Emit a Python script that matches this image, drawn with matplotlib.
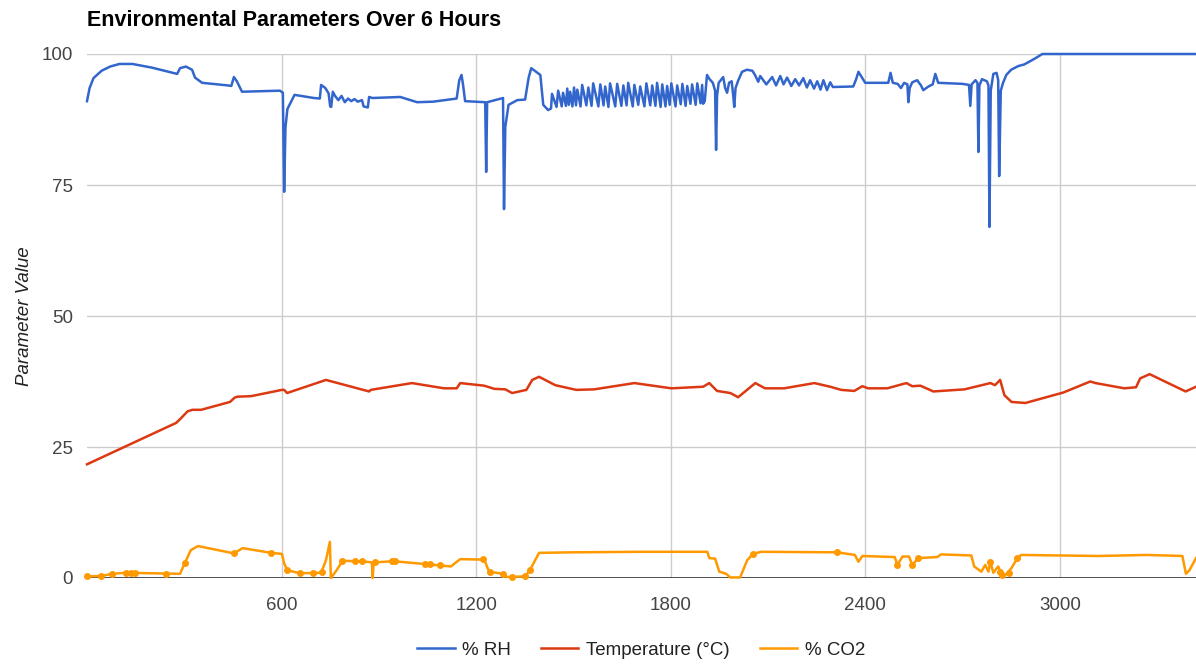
import numpy as np
import matplotlib
matplotlib.use("Agg")
import matplotlib.pyplot as plt

plt.rcParams['font.family'] = ['Liberation Sans', 'DejaVu Sans']

TITLE = "Environmental Parameters Over 6 Hours"
Y_LABEL = "Parameter Value"
SERIES_NAMES = ["% RH", "Temperature (°C)", "% CO2"]
COLORS = ["#3366CC", "#DC3912", "#FF9900"]
X_TICKS = [600, 1200, 1800, 2400, 3000]
Y_TICKS = [0, 25, 50, 75, 100]

# % RH
rh_x = [0, 8, 20, 45, 71, 100, 140, 200, 278, 287, 305, 324, 333, 355, 435, 445, 453, 462, 478,
        595, 604, 608, 612, 618, 640, 700, 718, 722, 735, 745, 750, 753, 758, 765, 775, 785, 795,
        805, 815, 825, 835, 848, 853, 866, 870, 880, 966, 1018, 1067, 1129, 1140, 1148, 1155, 1160,
        1166, 1228, 1231, 1234, 1283, 1286, 1290, 1300, 1327, 1351, 1362, 1370, 1385, 1398, 1407,
        1422,
        1431, 1434, 1448, 1453, 1464, 1468, 1477, 1481, 1486, 1490, 1497, 1502, 1508, 1512, 1522,
        1527, 1540, 1546, 1556, 1561, 1577, 1583, 1593, 1598, 1608, 1613, 1629, 1635, 1648, 1654,
        1664, 1669, 1683, 1688, 1700, 1706, 1719, 1725, 1737, 1743, 1753, 1758, 1769, 1774, 1784,
        1789, 1797, 1802, 1815, 1820, 1831, 1836, 1846, 1851, 1861, 1866, 1877, 1882, 1892, 1897,
        1900, 1905, 1912, 1920, 1930, 1937, 1940, 1943, 1948, 1962, 1968, 1974, 1980, 1988, 1993,
        1996, 2000, 2008, 2020, 2035, 2052, 2060, 2070, 2076, 2095, 2113, 2125, 2138, 2148, 2159,
        2172, 2184, 2196, 2209, 2220, 2230, 2242, 2252, 2262, 2271, 2282, 2292, 2300, 2363, 2372,
        2379, 2390, 2400, 2471, 2478, 2485, 2500, 2510, 2520, 2530, 2533, 2537, 2545, 2560, 2572,
        2579, 2595, 2608, 2616, 2625, 2700, 2720, 2724, 2728, 2740, 2746, 2749, 2752, 2760, 2775,
        2780, 2783, 2787, 2795, 2805, 2810, 2813, 2818, 2825, 2835, 2850, 2872, 2890, 2905, 2925,
        2946, 3420]
rh_y = [91.0, 93.5, 95.4, 96.8, 97.6, 98.1, 98.1, 97.4, 96.2, 97.3, 97.6, 97.0, 95.5, 94.5, 94.0,
        93.9, 95.6, 94.8, 92.8, 93.0, 92.6, 73.7, 86.0, 89.5, 92.2, 91.6, 91.5, 94.1, 93.5, 92.5,
        90.0, 89.9, 92.8, 92.0, 91.2, 92.0, 90.8, 91.5, 91.0, 91.4, 90.9, 91.2, 90.0, 89.8, 91.8,
        91.6, 91.8, 90.8, 90.9, 91.4, 91.5, 95.0, 96.0, 94.0, 91.0, 90.8, 77.5, 90.8, 91.6, 70.4,
        86.1, 90.3, 91.2, 91.3, 95.5, 97.3, 96.6, 96.0, 90.3, 89.3,
        89.6, 92.4, 89.9, 93.0, 90.0, 92.6, 90.1, 93.4, 90.3, 92.8, 90.0, 93.6, 90.2, 93.2, 90.0,
        94.1, 90.2, 93.6, 90.1, 94.4, 90.0, 94.2, 90.2, 93.8, 89.9, 94.4, 90.0, 94.3, 90.1, 94.0,
        90.2, 94.5, 90.0, 94.1, 90.3, 93.8, 90.0, 94.4, 90.2, 94.0, 90.1, 94.5, 89.9, 94.2, 90.0,
        93.9, 90.3, 94.4, 90.0, 94.0, 90.4, 94.3, 90.1, 93.9, 90.5, 94.2, 90.3, 94.4, 90.6, 94.1,
        90.5, 91.0, 96.0, 95.2, 94.5, 93.0, 81.7, 92.0, 94.5, 95.6, 93.5, 92.6, 94.5, 94.8, 92.0,
        89.9, 93.5, 94.9, 96.6, 97.0, 96.8, 96.0, 94.7, 95.8, 94.2, 95.6, 94.0, 95.8, 94.2, 95.5,
        93.9, 95.2, 94.0, 95.4, 93.6, 95.0, 93.4, 94.8, 93.2, 95.0, 93.1, 94.6, 93.7, 93.8, 95.2,
        96.6, 95.5, 94.5, 94.5, 96.4, 94.5, 94.3, 93.5, 94.5, 94.2, 90.8, 93.5, 94.6, 95.0, 94.0,
        93.1, 93.8, 94.2, 96.2, 94.5, 94.3, 94.1, 90.1, 94.2, 95.0, 94.5, 81.3, 94.0, 95.2, 94.8,
        94.0, 67.0, 93.0, 96.2, 96.4, 95.0, 76.7, 93.0, 94.5, 96.0, 97.0, 97.7, 98.0, 98.5, 99.2,
        100.0, 100.0]

# Temperature (°C)
temp_x = [0, 275, 290, 310, 325, 352, 441, 455, 463, 506, 601, 608, 617, 737, 870, 875, 1002, 1101,
          1140, 1151, 1225, 1256, 1290, 1311, 1355, 1373, 1394, 1444, 1509, 1564, 1688, 1802, 1900,
          1919, 1943, 1984, 2008, 2061, 2091, 2150, 2243, 2292, 2326, 2366, 2391, 2409, 2468, 2527,
          2545, 2570, 2610, 2706, 2786, 2800, 2816, 2829, 2851, 2894, 3011, 3094, 3110, 3199, 3235,
          3248, 3277, 3388, 3420]
temp_y = [21.7, 29.6, 30.5, 31.8, 32.1, 32.1, 33.6, 34.4, 34.6, 34.7, 35.9, 35.9, 35.3, 37.8, 35.6,
          35.9, 37.2, 36.2, 36.2, 37.2, 36.7, 36.1, 36.0, 35.3, 35.9, 37.8, 38.4, 36.8, 35.9, 36.0,
          37.2, 36.2, 36.5, 37.2, 35.7, 35.3, 34.5, 37.2, 36.2, 36.2, 37.2, 36.5, 35.9, 35.7, 36.6,
          36.2, 36.2, 37.2, 36.6, 36.7, 35.6, 36.0, 37.2, 36.8, 37.8, 34.9, 33.6, 33.4, 35.4, 37.5,
          37.2, 36.2, 36.4, 38.1, 38.9, 35.6, 36.5]

# % CO2
co2_x = [0, 45, 78, 120, 200, 287, 302, 320, 342, 453, 480, 568, 601, 608, 617, 657, 722, 737, 749,
         752, 770, 788, 860, 878, 880, 881, 884, 891, 946, 1036, 1122, 1151, 1225, 1240, 1283, 1295,
         1351, 1366, 1394, 1500, 1706, 1913, 1919, 1937, 1950, 1971, 1984, 2014, 2036, 2054, 2079,
         2314, 2368, 2379, 2391, 2491, 2499, 2515, 2535, 2545, 2564, 2622, 2634, 2727, 2736, 2758,
         2770, 2780, 2786, 2795, 2810, 2823, 2835, 2851, 2869, 2881, 3116, 3270, 3378, 3389, 3400,
         3420]
co2_y = [0.3, 0.4, 0.8, 1.0, 0.9, 0.8, 2.9, 5.3, 6.1, 4.7, 5.7, 4.8, 4.6, 2.8, 1.5, 0.9, 1.0, 3.4,
         6.9, 0.0, 1.5, 3.3, 3.1, 3.0, 1.5, 0.0, 3.0, 3.0, 3.2, 2.7, 2.2, 3.6, 3.5, 1.2, 0.8, 0.2,
         0.3, 1.5, 4.8, 4.9, 5.0, 5.0, 3.8, 3.7, 1.2, 0.8, 0.1, 0.1, 3.4, 4.6, 5.0, 4.9, 4.4, 3.1,
         4.2, 4.0, 2.5, 4.1, 4.1, 2.5, 3.8, 4.0, 4.5, 4.3, 2.2, 1.2, 2.5, 1.2, 3.1, 1.0, 2.2, 0.5,
         0.7, 1.9, 3.8, 4.4, 4.2, 4.4, 4.2, 0.8, 1.5, 3.8]

# isolated CO2 points that the chart draws as dots
co2_dot_x = [0, 43, 77, 120, 135, 148, 244, 302, 453, 568, 617, 657, 697, 725, 787, 827, 848, 888,
             941, 950, 1043, 1058, 1089, 1222, 1243, 1283, 1311, 1351, 1366, 2054, 2314, 2499, 2545,
             2564, 2786, 2816, 2823, 2842, 2869]
co2_dot_y = [0.3, 0.4, 0.8, 1.0, 1.0, 1.0, 0.8, 2.9, 4.7, 4.8, 1.5, 0.9, 0.9, 1.1, 3.3, 3.3, 3.2,
             3.0, 3.2, 3.2, 2.6, 2.6, 2.4, 3.6, 1.2, 0.8, 0.1, 0.3, 1.5, 4.6, 4.9, 2.5, 2.5, 3.8,
             3.1, 1.2, 0.5, 1.0, 3.8]

fig = plt.figure(figsize=(11.96, 6.64), dpi=100)
ax = fig.add_axes([87 / 1196, 1 - 578 / 664, 1 - 87 / 1196, (578 - 54) / 664])

ax.plot(rh_x, rh_y, color=COLORS[0], lw=1.8, label=SERIES_NAMES[0], clip_on=False, zorder=3)
ax.plot(temp_x, temp_y, color=COLORS[1], lw=1.8, label=SERIES_NAMES[1], clip_on=False, zorder=3)
ax.plot(co2_x, co2_y, color=COLORS[2], lw=1.8, label=SERIES_NAMES[2], clip_on=False, zorder=3)
ax.plot(co2_dot_x, co2_dot_y, 'o', color=COLORS[2], ms=4, clip_on=False, zorder=3)

ax.set_xlim(0, 3420)
ax.set_ylim(0, 100)
ax.set_xticks(X_TICKS)
ax.set_yticks(Y_TICKS)
ax.grid(True, color="#cccccc", lw=1)
ax.set_axisbelow(True)
ax.axhline(0, color="#333333", lw=1.2, zorder=2)
for s in ax.spines.values():
    s.set_visible(False)
ax.tick_params(length=0, labelsize=13.5, labelcolor="#444444")
ax.tick_params(axis='x', pad=14)
ax.tick_params(axis='y', pad=10)

ax.set_ylabel(Y_LABEL, fontsize=13.5, style='italic', color="#222222", labelpad=6)
fig.text(87 / 1196, 1 - 21 / 664, TITLE, fontsize=15.5, fontweight='bold', ha='left', va='center',
         color="#000000")

fig.legend(loc='center', bbox_to_anchor=(641 / 1196, 1 - 650 / 664), ncol=3, frameon=False,
           fontsize=13.5, handlelength=2.0, handletextpad=0.4, columnspacing=1.6,
           labelcolor="#222222")

fig.savefig("out.png", dpi=100)
